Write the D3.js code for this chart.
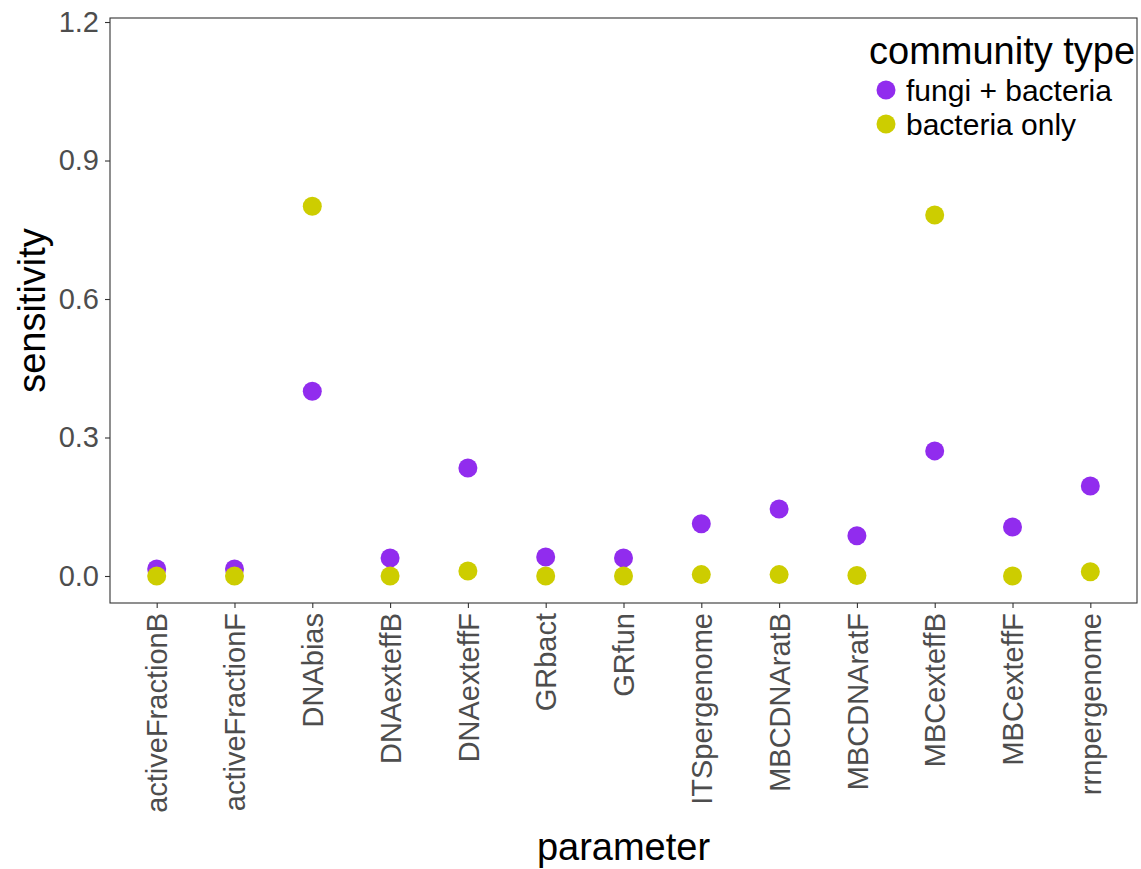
<!DOCTYPE html>
<html>
<head>
<meta charset="utf-8">
<script src="https://cdn.jsdelivr.net/npm/d3@7"></script>
<style>
  body { margin: 0; background: #fff; }
  svg { font-family: "Liberation Sans", Arial, Helvetica, sans-serif; }
</style>
</head>
<body>
<svg id="chart" width="1141" height="869"></svg>
<script>
// Sensitivity of each model parameter, per community type
const parameters = ["activeFractionB", "activeFractionF", "DNAbias", "DNAexteffB", "DNAexteffF",
  "GRbact", "GRfun", "ITSpergenome", "MBCDNAratB", "MBCDNAratF", "MBCexteffB", "MBCexteffF", "rrnpergenome"];
const fungiBacteria = [0.015, 0.015, 0.400, 0.039, 0.234, 0.041, 0.039, 0.113, 0.145, 0.087, 0.271, 0.106, 0.195];
const bacteriaOnly  = [0.000, 0.000, 0.801, 0.000, 0.011, 0.000, 0.000, 0.003, 0.003, 0.001, 0.782, 0.000, 0.009];
const seriesNames = ["fungi + bacteria", "bacteria only"];
const seriesColors = ["#912CEE", "#CDCD00"];
const yTicks = [0, 0.3, 0.6, 0.9, 1.2];

const svg = d3.select("#chart");
const panel = { left: 110, right: 1137, top: 18, bottom: 603 };

const x = d3.scalePoint().domain(parameters).range([panel.left, panel.right]).padding(0.6);
const y = d3.scaleLinear().domain([-0.0585, 1.2087]).range([panel.bottom, panel.top]);

// panel border
svg.append("rect")
  .attr("x", panel.left).attr("y", panel.top)
  .attr("width", panel.right - panel.left).attr("height", panel.bottom - panel.top)
  .attr("fill", "none").attr("stroke", "#333").attr("stroke-width", 1.1);

// y axis
const yAxis = svg.append("g").attr("transform", `translate(${panel.left},0)`)
  .call(d3.axisLeft(y).tickValues(yTicks).tickFormat(d3.format(".1f")).tickSizeOuter(0).tickSize(5).tickPadding(6));
yAxis.select(".domain").remove();
yAxis.selectAll(".tick line").attr("stroke", "#333").attr("stroke-width", 1.1);
yAxis.selectAll(".tick text").attr("fill", "#4D4D4D").attr("font-size", 29);

// x axis with rotated labels
const xAxis = svg.append("g").attr("transform", `translate(0,${panel.bottom})`)
  .call(d3.axisBottom(x).tickSizeOuter(0).tickSize(5));
xAxis.select(".domain").remove();
xAxis.selectAll(".tick line").attr("stroke", "#333").attr("stroke-width", 1.1);
xAxis.selectAll(".tick text")
  .attr("fill", "#4D4D4D").attr("font-size", 29)
  .attr("transform", "rotate(-90)")
  .attr("text-anchor", "end")
  .attr("x", -10).attr("y", 0).attr("dy", "0.35em");

// axis titles
svg.append("text").attr("x", (panel.left + panel.right) / 2).attr("y", 860)
  .attr("text-anchor", "middle").attr("font-size", 38).attr("fill", "#000").text("parameter");
svg.append("text").attr("transform", `translate(45,${(panel.top + panel.bottom) / 2}) rotate(-90)`)
  .attr("text-anchor", "middle").attr("font-size", 38).attr("fill", "#000").text("sensitivity");

// points: fungi + bacteria first, bacteria only on top
const series = [fungiBacteria, bacteriaOnly];
series.forEach((vals, si) => {
  svg.append("g").selectAll("circle")
    .data(parameters.map((p, i) => ({ p, v: vals[i] })))
    .join("circle")
    .attr("cx", d => x(d.p)).attr("cy", d => y(d.v))
    .attr("r", 9.5).attr("fill", seriesColors[si]);
});

// legend
const legend = svg.append("g");
legend.append("text").attr("x", 869).attr("y", 64).attr("font-size", 38).attr("fill", "#000").text("community type");
seriesNames.forEach((name, i) => {
  const cy = 90 + i * 34;
  legend.append("circle").attr("cx", 886).attr("cy", cy).attr("r", 9.5).attr("fill", seriesColors[i]);
  legend.append("text").attr("x", 906).attr("y", cy).attr("dy", "0.35em")
    .attr("font-size", 30).attr("fill", "#000").text(name);
});
</script>
</body>
</html>
